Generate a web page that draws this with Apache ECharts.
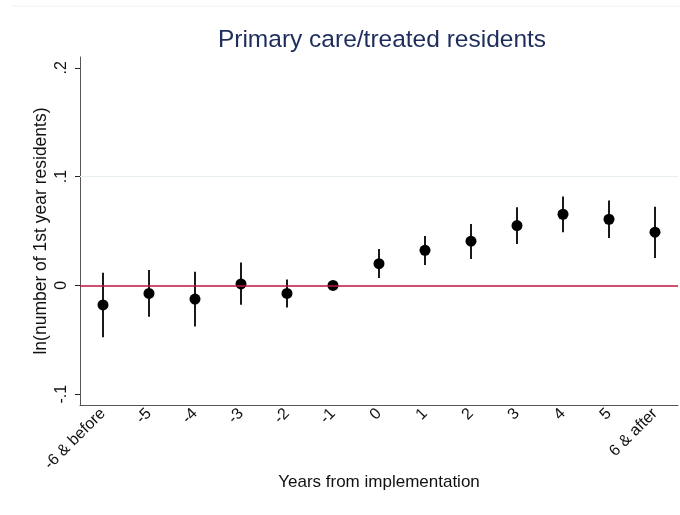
<!DOCTYPE html>
<html>
<head>
<meta charset="utf-8">
<script src="https://cdn.jsdelivr.net/npm/echarts@6/dist/echarts.min.js"></script>
<style>html,body{margin:0;padding:0;background:#fff}#c{width:680px;height:515px}</style>
</head>
<body>
<div id="c"></div>
<script>
var categories = ['-6 & before','-5','-4','-3','-2','-1','0','1','2','3','4','5','6 & after'];
var estimates  = [-0.018, -0.0074, -0.0126, 0.0013, -0.0074, 0, 0.020, 0.0323, 0.0406, 0.055, 0.0654, 0.0608, 0.0489];
var ciLow      = [-0.0476, -0.0289, -0.0378, -0.0178, -0.0203, null, 0.0068, 0.0187, 0.0243, 0.0381, 0.0489, 0.0436, 0.0252];
var ciHigh     = [0.0117, 0.0141, 0.0126, 0.021, 0.0055, null, 0.0335, 0.0455, 0.0565, 0.0719, 0.0817, 0.078, 0.0722];
var yTicks     = [-0.1, 0, 0.1, 0.2];

var FONT = 'Liberation Sans, Arial, sans-serif';
function fmtY(v){
  v = Math.round(v*1000)/1000;
  if (v === 0) return '0';
  var s = String(Math.abs(v)).replace(/^0/, '');
  return (v < 0 ? '-' : '') + s;
}
var ciData = [];
for (var i = 0; i < categories.length; i++) {
  if (ciLow[i] !== null) ciData.push([i, ciLow[i], ciHigh[i]]);
}
var chart = echarts.init(document.getElementById('c'), null, {renderer:'canvas'});
chart.setOption({
  animation: false,
  backgroundColor: '#fff',
  title: {
    text: 'Primary care/treated residents',
    left: 377, top: 23, textAlign: 'center',
    textStyle: {fontFamily: FONT, fontSize: 24.5, fontWeight: 'normal', color: '#1e2d5c'}
  },
  graphic: [{
    type: 'line', shape: {x1: 12, y1: 6, x2: 680, y2: 6},
    style: {stroke: '#eef1f4', lineWidth: 1}, silent: true
  }],
  grid: {left: 80, top: 57, width: 598, height: 348},
  xAxis: {
    type: 'category', data: categories, boundaryGap: true,
    name: 'Years from implementation', nameLocation: 'middle', nameGap: 69,
    nameMoveOverlap: false,
    nameTextStyle: {fontFamily: FONT, fontSize: 17, color: '#111'},
    axisLine: {onZero: false, lineStyle: {color: '#555', width: 1}},
    axisTick: {alignWithLabel: true, length: 5, lineStyle: {color: '#222'}},
    axisLabel: {rotate: 45, fontFamily: FONT, fontSize: 16, color: '#111', margin: 6, interval: 0},
    splitLine: {show: false}
  },
  yAxis: {
    type: 'value', min: -0.11, max: 0.21,
    name: 'ln(number of 1st year residents)', nameLocation: 'middle', nameGap: 30,
    nameMoveOverlap: false,
    nameTextStyle: {fontFamily: FONT, fontSize: 17.5, color: '#111'},
    axisLine: {show: true, lineStyle: {color: '#555', width: 1}},
    axisTick: {show: true, length: 5, lineStyle: {color: '#222'}, customValues: yTicks},
    axisLabel: {rotate: 90, fontFamily: FONT, fontSize: 16, color: '#111', margin: 10,
                customValues: yTicks, formatter: fmtY},
    splitLine: {show: false}
  },
  series: [
    {
      type: 'custom',
      data: ciData,
      renderItem: function (params, api) {
        var p1 = api.coord([api.value(0), api.value(1)]);
        var p2 = api.coord([api.value(0), api.value(2)]);
        return {type: 'line', shape: {x1: p1[0], y1: p1[1], x2: p2[0], y2: p2[1]},
                style: {stroke: '#1a1a1a', lineWidth: 2}};
      },
      z: 3
    },
    {
      type: 'scatter',
      data: estimates,
      symbol: 'circle', symbolSize: 11,
      itemStyle: {color: '#000', opacity: 1},
      z: 4,
      markLine: {
        silent: true, symbol: 'none', label: {show: false},
        data: [
          {yAxis: 0, lineStyle: {color: '#c0143c', width: 1.5, type: 'solid'}},
          {yAxis: 0.1, lineStyle: {color: '#e8eff1', width: 1, type: 'solid'}}
        ]
      }
    }
  ]
});
</script>
</body>
</html>
